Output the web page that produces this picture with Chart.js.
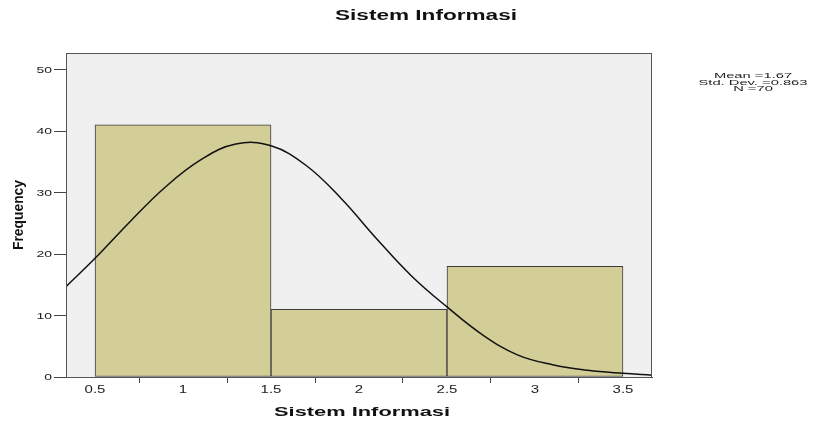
<!DOCTYPE html>
<html>
<head>
<meta charset="utf-8">
<script src="https://cdn.jsdelivr.net/npm/chart.js@4/dist/chart.umd.min.js"></script>
<style>
  html, body { margin: 0; padding: 0; background: #fff; }
  #wrap { position: relative; width: 813px; height: 423px; }
</style>
</head>
<body>
<div id="wrap"><canvas id="hist"></canvas></div>
<script>
// ===== data =====
const binEdges = [0.5, 1.5, 2.5, 3.5];
const frequencies = [41, 11, 18];
const xTicks = [0.5, 1, 1.5, 2, 2.5, 3, 3.5];
const yTicks = [0, 10, 20, 30, 40, 50];
// normal curve
const curveX = [0.335, 0.5, 0.7, 0.9, 1.1, 1.3, 1.5, 1.7, 1.9, 2.1, 2.3, 2.5, 2.7, 2.9, 3.1, 3.3, 3.5, 3.665];
const curveY = [14.7, 19.3, 25.3, 30.9, 35.3, 37.9, 37.6, 34.4, 29.0, 22.5, 16.4, 11.4, 6.9, 3.6, 2.0, 1.1, 0.6, 0.3];
const titleText = 'Sistem Informasi';
const xTitle = 'Sistem Informasi';
const yTitle = 'Frequency';
const statsLines = ['Mean =1.67', 'Std. Dev. =0.863', 'N =70'];

const barData = frequencies.map((f, i) => ({ x: (binEdges[i] + binEdges[i + 1]) / 2, y: f }));
const curveData = curveX.map((x, i) => ({ x: x, y: curveY[i] }));

// text helper: squeeze/stretch horizontally so it spans a given width
function putText(ctx, text, x, y, font, opts) {
  opts = opts || {};
  ctx.save();
  ctx.font = font;
  ctx.fillStyle = opts.color || '#111';
  ctx.textBaseline = 'middle';
  ctx.textAlign = opts.align || 'center';
  ctx.translate(x, y);
  if (opts.rot) ctx.rotate(opts.rot);
  let sx = opts.sx || 1;
  if (opts.width) sx = opts.width / ctx.measureText(text).width;
  ctx.scale(sx, 1);
  ctx.fillText(text, 0, 0);
  ctx.restore();
}

const frame = {
  id: 'frame',
  beforeDraw(chart) {
    const { ctx, chartArea: a } = chart;
    ctx.save();
    ctx.fillStyle = '#f0f0f0';
    ctx.fillRect(a.left, a.top, a.right - a.left, a.bottom - a.top);
    ctx.restore();
  },
  afterDraw(chart) {
    const { ctx, chartArea: a, scales } = chart;
    ctx.save();
    ctx.strokeStyle = '#555';
    ctx.lineWidth = 1;
    ctx.strokeRect(a.left + 0.5, a.top + 0.5, a.right - a.left - 1, a.bottom - a.top);
    ctx.restore();

    const f = 'Liberation Sans, Arial, sans-serif';
    xTicks.forEach(v => putText(ctx, String(v), scales.x.getPixelForValue(v), 390, '10px ' + f, { sx: 1.5, color: '#222' }));
    yTicks.forEach(v => putText(ctx, String(v), 52, scales.y.getPixelForValue(v) + 0.5, '9px ' + f, { sx: 1.55, align: 'right', color: '#222' }));

    putText(ctx, titleText, 426, 16, 'bold 14px ' + f, { width: 182 });
    putText(ctx, xTitle, 362, 412, 'bold 13px ' + f, { width: 176 });
    putText(ctx, yTitle, 19, 215, 'bold 14px ' + f, { rot: -Math.PI / 2, width: 70 });

    ctx.save();
    ctx.font = '8px ' + f;
    const wMax = Math.max(...statsLines.map(s => ctx.measureText(s).width));
    ctx.restore();
    const sx = 109 / wMax;
    statsLines.forEach((s, i) => putText(ctx, s, 753, 75.5 + i * 6.8, '8px ' + f, { sx: sx, color: '#222' }));
  }
};

new Chart(document.getElementById('hist'), {
  type: 'bar',
  data: {
    datasets: [
      {
        type: 'line',
        data: curveData,
        borderColor: '#111',
        borderWidth: 1.5,
        pointRadius: 0,
        tension: 0.4,
        fill: false,
        order: 0
      },
      {
        type: 'bar',
        data: barData,
        backgroundColor: '#d3ce97',
        borderColor: '#3c3c3c',
        borderWidth: 1,
        borderSkipped: false,
        barThickness: 'flex',
        barPercentage: 1,
        categoryPercentage: 1,
        order: 1
      }
    ]
  },
  options: {
    responsive: true,
    maintainAspectRatio: false,
    animation: false,
    layout: { padding: { top: 53, left: 0, right: 161, bottom: 0 } },
    plugins: { legend: { display: false }, tooltip: { enabled: false }, title: { display: false } },
    scales: {
      x: {
        type: 'linear',
        min: 0.335,
        max: 3.665,
        offset: false,
        afterBuildTicks: s => { s.ticks = xTicks.map(v => ({ value: v })); },
        afterFit: s => { s.height = 46; },
        ticks: { display: false },
        grid: { drawOnChartArea: false, drawTicks: true, tickLength: 6, color: '#444' },
        border: { display: true, color: '#444', width: 1 }
      },
      y: {
        min: 0,
        max: 52.7,
        afterBuildTicks: s => { s.ticks = yTicks.map(v => ({ value: v })); },
        afterFit: s => { s.width = 66; },
        ticks: { display: false },
        grid: { drawOnChartArea: false, drawTicks: true, tickLength: 12, color: '#444' },
        border: { display: true, color: '#444', width: 1 }
      }
    }
  },
  plugins: [frame]
});
</script>
</body>
</html>
